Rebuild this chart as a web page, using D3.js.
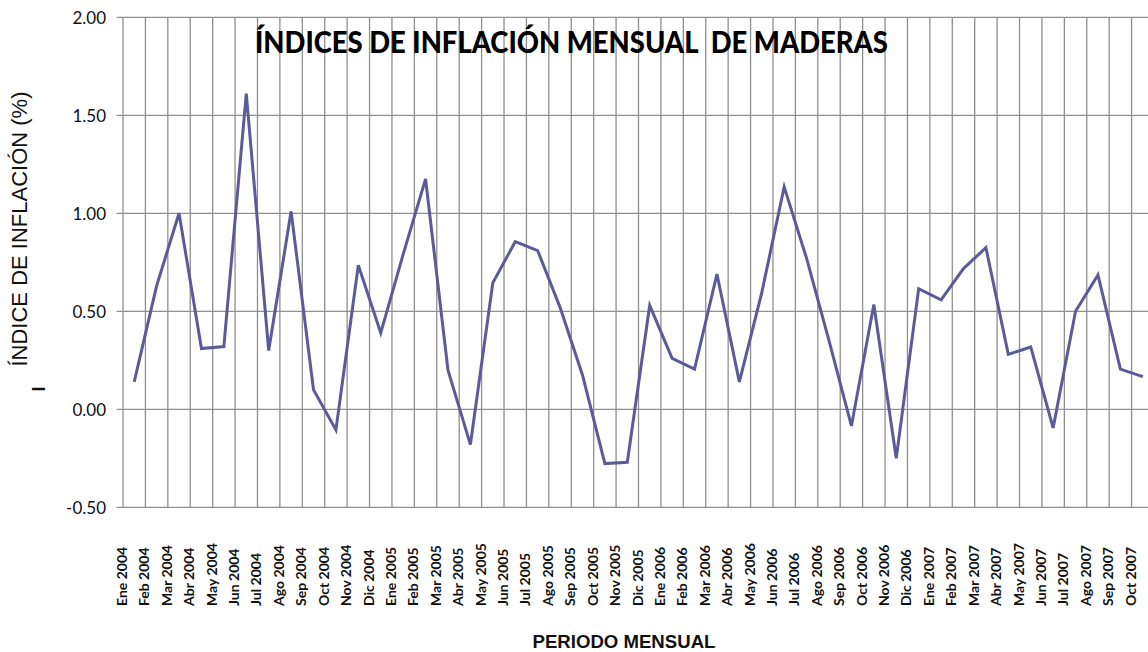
<!DOCTYPE html>
<html><head><meta charset="utf-8">
<script src="https://cdn.jsdelivr.net/npm/d3@7"></script>
<style>body{margin:0;background:#fff;overflow:hidden}</style>
</head><body>
<svg id="c" width="1148" height="652"></svg>
<script>
const months = ["Ene 2004","Feb 2004","Mar 2004","Abr 2004","May 2004","Jun 2004","Jul 2004","Ago 2004","Sep 2004","Oct 2004","Nov 2004","Dic 2004",
"Ene 2005","Feb 2005","Mar 2005","Abr 2005","May 2005","Jun 2005","Jul 2005","Ago 2005","Sep 2005","Oct 2005","Nov 2005","Dic 2005",
"Ene 2006","Feb 2006","Mar 2006","Abr 2006","May 2006","Jun 2006","Jul 2006","Ago 2006","Sep 2006","Oct 2006","Nov 2006","Dic 2006",
"Ene 2007","Feb 2007","Mar 2007","Abr 2007","May 2007","Jun 2007","Jul 2007","Ago 2007","Sep 2007","Oct 2007"];
const values = [0.14,0.63,1.00,0.31,0.32,1.61,0.30,1.01,0.10,-0.105,0.735,0.39,
0.79,1.175,0.20,-0.18,0.645,0.855,0.81,0.52,0.175,-0.277,-0.27,0.53,
0.26,0.205,0.69,0.14,0.595,1.135,0.77,0.35,-0.085,0.535,-0.25,0.615,
0.558,0.718,0.825,0.28,0.318,-0.095,0.50,0.686,0.205,0.167];
const yTicks = [-0.5,0,0.5,1,1.5,2];
const title = "ÍNDICES DE INFLACIÓN MENSUAL  DE MADERAS";
const yTitle = "ÍNDICE DE INFLACIÓN (%)";
const xTitle = "PERIODO MENSUAL";

const svg = d3.select("#c");
const pLeft = 123, pRight = 1154, pTop = 17.3, pBottom = 507.3;
const x = d3.scaleBand().domain(months).range([pLeft, pRight]).paddingInner(0).paddingOuter(0);
const y = d3.scaleLinear().domain([-0.5, 2]).range([pBottom, pTop]);
const bw = x.bandwidth();
const gridColor = "#8f8f8f";
const fmt = d => d3.format(".2f")(d).replace("\u2212", "-");

// vertical gridlines (category boundaries)
const vb = months.map(m => x(m)).concat([pRight]);
svg.append("g").selectAll("line").data(vb).join("line")
  .attr("x1", d => d).attr("x2", d => d)
  .attr("y1", pTop).attr("y2", pBottom)
  .attr("stroke", gridColor).attr("stroke-width", 1.3);

// horizontal gridlines + ticks
svg.append("g").selectAll("line").data(yTicks).join("line")
  .attr("x1", pLeft - 6.5).attr("x2", 1148)
  .attr("y1", d => y(d)).attr("y2", d => y(d))
  .attr("stroke", gridColor).attr("stroke-width", 1.3);

// y tick labels
svg.append("g").selectAll("text").data(yTicks).join("text")
  .attr("x", 106).attr("y", d => y(d)).attr("dy", "0.38em")
  .attr("text-anchor", "end")
  .style("font-family", "Lato, 'Open Sans', sans-serif").style("font-size", "17px").attr("fill", "#111")
  .text(fmt);

// x labels
svg.append("g").selectAll("text").data(months).join("text")
  .attr("transform", d => `translate(${x(d) + 4},606) rotate(-90)`)
  .attr("text-anchor", "start")
  .style("font-family", "Lato, sans-serif").style("font-weight", "bold").style("font-size", "14px").attr("fill", "#111")
  .text(d => d);

// title
svg.append("text")
  .attr("x", 255).attr("y", 53)
  .attr("textLength", 633).attr("lengthAdjust", "spacingAndGlyphs")
  .style("white-space", "pre")
  .style("font-family", "Lato, sans-serif").style("font-weight", "900").style("font-size", "31px").attr("fill", "#000")
  .text(title);

// y title
svg.append("text")
  .attr("transform", "translate(27,229) rotate(-90)")
  .attr("text-anchor", "middle")
  .style("font-family", "'Liberation Sans', Arial, sans-serif").style("font-size", "22px").attr("fill", "#111")
  .text(yTitle);
svg.append("text")
  .attr("transform", "translate(45,389) rotate(-90)")
  .attr("text-anchor", "middle")
  .style("font-family", "'Liberation Sans', Arial, sans-serif").style("font-weight", "bold").style("font-size", "18px").attr("fill", "#111")
  .text("I");

// x title
svg.append("text")
  .attr("x", 624).attr("y", 648.3).attr("text-anchor", "middle")
  .style("font-family", "'Liberation Sans', Arial, sans-serif").style("font-weight", "bold").style("font-size", "18.6px").attr("fill", "#111")
  .text(xTitle);

// line
const line = d3.line().x((d, i) => x(months[i]) + bw / 2).y(d => y(d));
svg.append("path").datum(values)
  .attr("d", line).attr("fill", "none")
  .attr("stroke", "#5b5b99").attr("stroke-width", 3).attr("stroke-linejoin", "miter");
</script>
</body></html>
